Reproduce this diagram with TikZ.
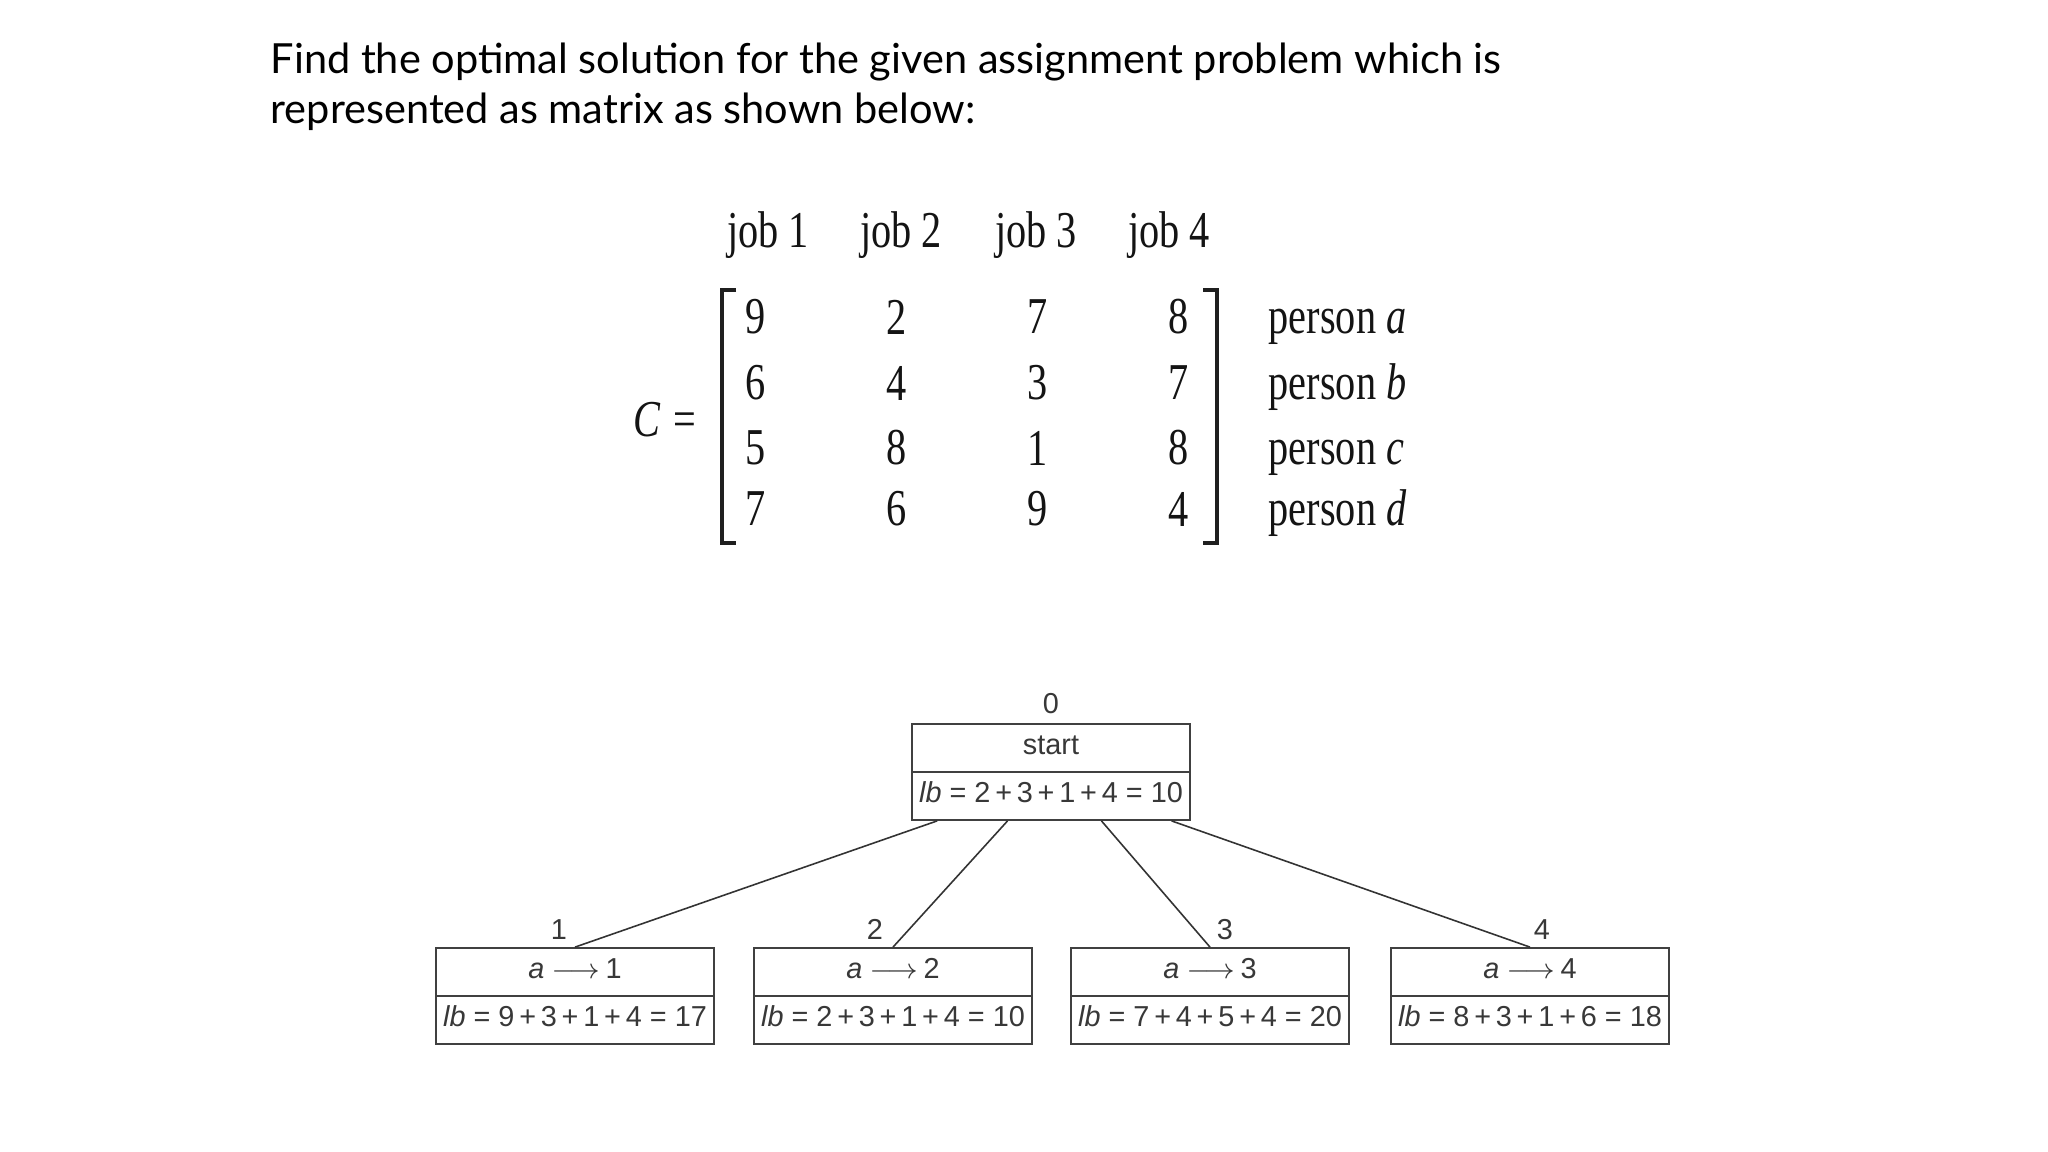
\documentclass[tikz,border=0pt]{standalone}
\usepackage{fontspec}
\usepackage{graphicx}
\setmainfont{Liberation Sans}
\newfontfamily\matfont{Liberation Serif}
\newfontfamily\titlefont{Lato}
\usetikzlibrary{shapes.multipart, calc, positioning}

% squeezed serif text for the cost matrix
\newcommand{\matxt}[1]{\scalebox{0.78}[1]{\matfont\fontsize{14.7}{17}\selectfont #1}}

\begin{document}
\begin{tikzpicture}[x=0.01cm, y=-0.01cm,
  entry/.style={inner sep=0pt, text=black!92},
  box/.style={draw=black!75, line width=0.6pt, rectangle split, rectangle split parts=2,
    minimum width=2.78cm, inner xsep=0pt, inner ysep=2pt,
    font=\fontsize{8.2}{9}\selectfont, text=black!78},
  num/.style={inner sep=0pt, font=\fontsize{8.2}{9}\selectfont, text=black!78},
  edge/.style={draw=black!80, line width=0.45pt}]

  \fill[white] (0,0) rectangle (2048,1152);
  \useasboundingbox (0,0) rectangle (2048,1152);

  % question
  \node[anchor=base west, inner sep=0pt, font=\titlefont\fontsize{11.8}{14}\selectfont] (q1) at (270,74)
    {Find the optimal solution for the given assignment problem which is};
  \node[anchor=base west, inner sep=0pt, font=\titlefont\fontsize{11.8}{14}\selectfont] (q2) at (270,124)
    {represented as matrix as shown below:};

  % column heads
  \foreach \x [count=\j] in {768, 901, 1036, 1169} {
    \node[entry, anchor=base] (job\j) at (\x,248) {\matxt{job \j}};
  }

  % cost matrix, one row per person
  \foreach \va/\vb/\vc/\vd/\y/\p [count=\i] in {9/2/7/8/317/a, 6/4/3/7/383/b, 5/8/1/8/448/c, 7/6/9/4/509/d} {
    \node[entry] (m\i1) at (756,\y) {\matxt{\va}};
    \node[entry] (m\i2) at (897,\y) {\matxt{\vb}};
    \node[entry] (m\i3) at (1038,\y) {\matxt{\vc}};
    \node[entry] (m\i4) at (1179,\y) {\matxt{\vd}};
    \node[entry, anchor=base west] (p\i) at (1268,\y+17) {\matxt{person \textit{\p}}};
  }

  % brackets
  \draw[line width=1pt, black!88] (736,290) -- (722,290) -- (722,543) -- (736,543);
  \draw[line width=1pt, black!88] (1203,290) -- (1217,290) -- (1217,543) -- (1203,543);
  \node[entry] (cmat) at (665,420) {\matxt{\textit{C}\,\,=}};

  % root of the state-space tree
  \node[box] (root) at (1051,772) {\strut start \nodepart{two} \strut\textit{lb}\ =\ 2\,+\,3\,+\,1\,+\,4\ =\ 10};
  \node[num, above=2.5pt of root] (n0) {0};

  % first level: person a gets job 1..4
  \foreach \x/\lb [count=\i] in {575/9\,+\,3\,+\,1\,+\,4\ =\ 17, 893/2\,+\,3\,+\,1\,+\,4\ =\ 10,
                                 1210/7\,+\,4\,+\,5\,+\,4\ =\ 20, 1530/8\,+\,3\,+\,1\,+\,6\ =\ 18} {
    \node[box] (c\i) at (\x,996)
      {\strut\textit{a}\hspace{0.25em}$\longrightarrow$\hspace{0.2em}\i \nodepart{two} \strut\textit{lb}\ =\ \lb};
  }
  \node[num] (n1) at ($(c1.north)+(-16,-18)$) {1};
  \node[num] (n2) at ($(c2.north)+(-18,-18)$) {2};
  \node[num] (n3) at ($(c3.north)+(15,-18)$) {3};
  \node[num] (n4) at ($(c4.north)+(12,-18)$) {4};

  \foreach \i/\f in {1/0.094, 2/0.345, 3/0.68, 4/0.93} {
    \draw[edge] ($(root.south west)!\f!(root.south east)$) -- (c\i.north);
  }

\end{tikzpicture}
\end{document}
